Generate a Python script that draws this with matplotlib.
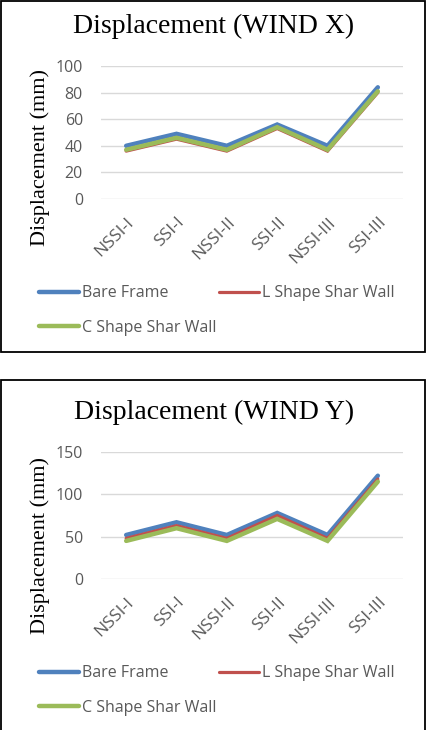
import matplotlib.pyplot as plt
from matplotlib.patches import Rectangle
from matplotlib.lines import Line2D

# ---- DATA ----
categories = ["NSSI-I", "SSI-I", "NSSI-II", "SSI-II", "NSSI-III", "SSI-III"]
series_names = ["Bare Frame", "L Shape Shar Wall", "C Shape Shar Wall"]

wind_x_bare = [40, 49, 40, 56, 40, 84]
wind_x_l = [36, 45, 36, 53, 36, 80]
wind_x_c = [37, 46, 37, 54, 37, 81]

wind_y_bare = [52, 67, 52, 78, 52, 122]
wind_y_l = [48, 63, 48, 75, 48, 118]
wind_y_c = [45, 60, 45, 71, 45, 115]

# ---- STYLE ----
colors = ["#4F81BD", "#C0504D", "#9BBB59"]
widths = [3.2, 2.3, 3.2]
TEXT_GRAY = "#595959"
SANS = "Open Sans"
SERIF = "Liberation Serif"

W, H = 428, 730
fig = plt.figure(figsize=(W / 100, H / 100), dpi=100)


def px_box(x0, y0, x1, y1):
    """Convert pixel box (top-left origin) to figure fraction rect."""
    return [x0 / W, 1 - y1 / H, (x1 - x0) / W, (y1 - y0) / H]


def draw_panel(ax_rect, title, title_y, ylabel_y, data, ymax, ystep, legend_y):
    ax = fig.add_axes(px_box(*ax_rect))
    x = range(len(categories))
    for vals, c, lw in zip(data, colors, widths):
        ax.plot(x, vals, color=c, lw=lw, solid_capstyle="round",
                solid_joinstyle="miter", zorder=3)
    ax.set_xlim(-0.5, len(categories) - 0.5)
    ax.set_ylim(0, ymax)
    ax.set_yticks(range(0, ymax + 1, ystep))
    ax.set_xticks(list(x))
    ax.set_xticklabels(categories, rotation=45, ha="right", va="top",
                       rotation_mode="anchor")
    ax.tick_params(length=0, colors=TEXT_GRAY, labelsize=11.5)
    ax.tick_params(axis="x", labelsize=12.5, pad=11)
    ax.tick_params(axis="y", pad=13)
    for lab in ax.get_xticklabels() + ax.get_yticklabels():
        lab.set_fontfamily(SANS)
    for s in ax.spines.values():
        s.set_visible(False)
    ax.grid(axis="y", color="#D9D9D9", lw=1)
    ax.set_axisbelow(True)

    fig.text(0.5, 1 - title_y / H, title, ha="center", va="center",
             fontsize=20, family=SERIF)
    fig.text(40 / W, 1 - ylabel_y / H, "Displacement (mm)", rotation=90,
             ha="center", va="center", fontsize=16, family=SERIF)

    handles = [Line2D([], [], color=c, lw=lw, solid_capstyle="round")
               for c, lw in zip(colors, widths)]
    order = [0, 2, 1]
    fig.legend([handles[i] for i in order], [series_names[i] for i in order],
               loc="upper left", bbox_to_anchor=(25 / W, 1 - legend_y / H),
               ncol=2, frameon=False, handlelength=2.5, handletextpad=0.2,
               columnspacing=0.1, labelspacing=1.15,
               prop={"family": SANS, "size": 11.5}, labelcolor=TEXT_GRAY)


# Panel borders
fig.patches.append(Rectangle((1 / W, 1 - 352 / H), 424 / W, 351 / H,
                             transform=fig.transFigure, fill=False,
                             edgecolor="black", lw=1.3))
fig.patches.append(Rectangle((1 / W, -0.01), 424 / W, 1 - 380 / H + 0.01,
                             transform=fig.transFigure, fill=False,
                             edgecolor="black", lw=1.3))

draw_panel((101, 66, 403, 199), "Displacement (WIND X)", 26, 158,
           [wind_x_bare, wind_x_l, wind_x_c], 100, 20, 271)
draw_panel((101, 452, 403, 579), "Displacement (WIND Y)", 412, 546,
           [wind_y_bare, wind_y_l, wind_y_c], 150, 50, 651)

fig.savefig("out.png", dpi=100)
